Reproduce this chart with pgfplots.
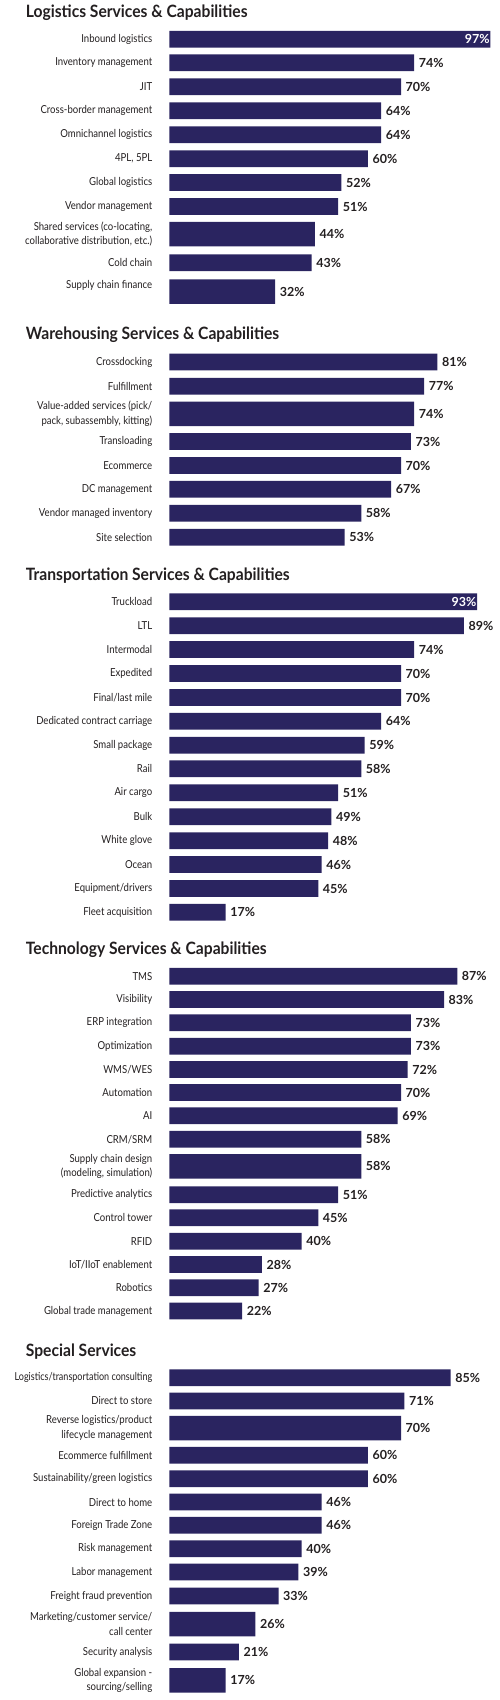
\documentclass[border=0pt]{standalone}
\usepackage{fontspec}
\setmainfont{Lato}
\newfontfamily\lablato[FakeStretch=0.87]{Lato}
\newfontfamily\narrowlato[FakeStretch=0.82]{Lato}
\newfontfamily\titlato[FakeStretch=0.92]{Lato}
\usepackage{pgfplots}
\usepackage{pgfplotstable}
\pgfplotsset{compat=1.18}
\definecolor{barc}{HTML}{2A2460}
\definecolor{txt}{HTML}{231F20}
\newcommand\labfont{\lablato\fontsize{11}{14.3}\selectfont}
\newcommand\valfont{\fontsize{12.5}{14}\selectfont\bfseries}
\newcommand\titfont{\titlato\fontsize{17}{20}\selectfont\bfseries}

% normal-height bars (y = bar centre in px, v = percent)
\pgfplotstableread{
y v
62.8 74
86.8 70
110.8 64
134.8 64
158.8 60
182.5 52
206.5 51
262.7 43
362 81
386.2 77
441.5 73
465.5 70
489.2 67
513.2 58
537.2 53
625.8 89
649.5 74
673.5 70
697.5 70
721.2 64
745.2 59
768.8 58
792.8 51
816.8 49
840.8 48
864.5 46
888.5 45
912.2 17
976.2 87
999.5 83
1022.8 73
1046.2 73
1069.5 72
1092.5 70
1115.8 69
1139.2 58
1194.7 51
1217.8 45
1241.2 40
1264.5 28
1287.7 27
1311 22
1377.7 85
1401 71
1455.3 60
1478.7 60
1502 46
1525.3 46
1548.7 40
1572 39
1596 33
1652 21
}\normalbars

% tall bars (two-line categories)
\pgfplotstableread{
y v
234.2 44
291.7 32
413.8 74
1166.3 58
1428 70
1624 26
1680.3 17
}\tallbars

% bars with the value written inside
\pgfplotstableread{
y v
39.2 97
601.8 93
}\insidebars

\begin{document}
\begin{tikzpicture}
\begin{axis}[
  name=ax,
  scale only axis, width=500pt, height=1700pt,
  xmin=-51.15, xmax=99.91, ymin=0, ymax=1700, y dir=reverse,
  hide x axis,
  y axis line style={draw=none},
  ytick style={draw=none},
  clip=false,
  /pgf/number format/assume math mode=true,
  xbar, bar shift=0pt,
  point meta=x,
  ytick={39.2,62.8,86.8,110.8,134.8,158.8,182.5,206.5,234.2,262.7,285,
         362,386.2,413.8,441.5,465.5,489.2,513.2,537.2,
         601.8,625.8,649.5,673.5,697.5,721.2,745.2,768.8,792.8,816.8,840.8,864.5,888.5,912.2,
         976.2,999.5,1022.8,1046.2,1069.5,1092.5,1115.8,1139.2,1166.3,1194.7,1217.8,1241.2,1264.5,1287.7,1311,
         1377.7,1401,1428,1455.3,1478.7,1502,1525.3,1548.7,1572,1596,1624,1652,1680.3},
  yticklabels={Inbound logistics,Inventory management,JIT,Cross-border management,Omnichannel logistics,{4PL, 5PL},Global logistics,Vendor management,{Shared services (co-locating,\\collaborative distribution, etc.)},Cold chain,Supply chain finance,
    Crossdocking,Fulfillment,{Value-added services (pick/\\pack, subassembly, kitting)},Transloading,Ecommerce,DC management,Vendor managed inventory,Site selection,
    Truckload,LTL,Intermodal,Expedited,Final/last mile,Dedicated contract carriage,Small package,Rail,Air cargo,Bulk,White glove,Ocean,Equipment/drivers,Fleet acquisition,
    TMS,Visibility,ERP integration,Optimization,WMS/WES,Automation,AI,CRM/SRM,{Supply chain design\\(modeling, simulation)},Predictive analytics,Control tower,RFID,IoT/IIoT enablement,Robotics,Global trade management,
    {\narrowlato Logistics/transportation consulting},Direct to store,{Reverse logistics/product\\lifecycle management},Ecommerce fulfillment,Sustainability/green logistics,Direct to home,Foreign Trade Zone,Risk management,Labor management,Freight fraud prevention,{Marketing/customer service/\\call center},Security analysis,{Global expansion -\\sourcing/selling}},
  yticklabel style={font=\labfont, text=txt, anchor=east, inner sep=0pt, xshift=156.7pt, align=right},
  nodes near coords={\pgfmathprintnumber{\pgfplotspointmeta}\%},
  nodes near coords align=horizontal,
  every node near coord/.append style={font=\valfont, text=txt, anchor=west, inner sep=0pt, xshift=4.5pt},
]
\addplot[fill=barc, draw=none, bar width=16.8] table[x=v, y=y] {\normalbars};
\addplot[fill=barc, draw=none, bar width=24.5] table[x=v, y=y] {\tallbars};
\addplot[fill=barc, draw=none, bar width=16.8,
  every node near coord/.append style={text=white, anchor=east, xshift=-5pt}] table[x=v, y=y] {\insidebars};

\node[anchor=west, font=\titfont, text=txt, inner sep=0pt] at (axis cs:-43.38,12.7) {Logistics Services \& Capabilities};
\node[anchor=west, font=\titfont, text=txt, inner sep=0pt] at (axis cs:-43.38,335) {Warehousing Services \& Capabilities};
\node[anchor=west, font=\titfont, text=txt, inner sep=0pt] at (axis cs:-43.38,575.7) {Transportation Services \& Capabilities};
\node[anchor=west, font=\titfont, text=txt, inner sep=0pt] at (axis cs:-43.38,949.3) {Technology Services \& Capabilities};
\node[anchor=west, font=\titfont, text=txt, inner sep=0pt] at (axis cs:-43.38,1352) {Special Services};
\end{axis}
\pgfresetboundingbox
\path[use as bounding box] (ax.south west) rectangle (ax.north east);
\end{tikzpicture}
\end{document}
